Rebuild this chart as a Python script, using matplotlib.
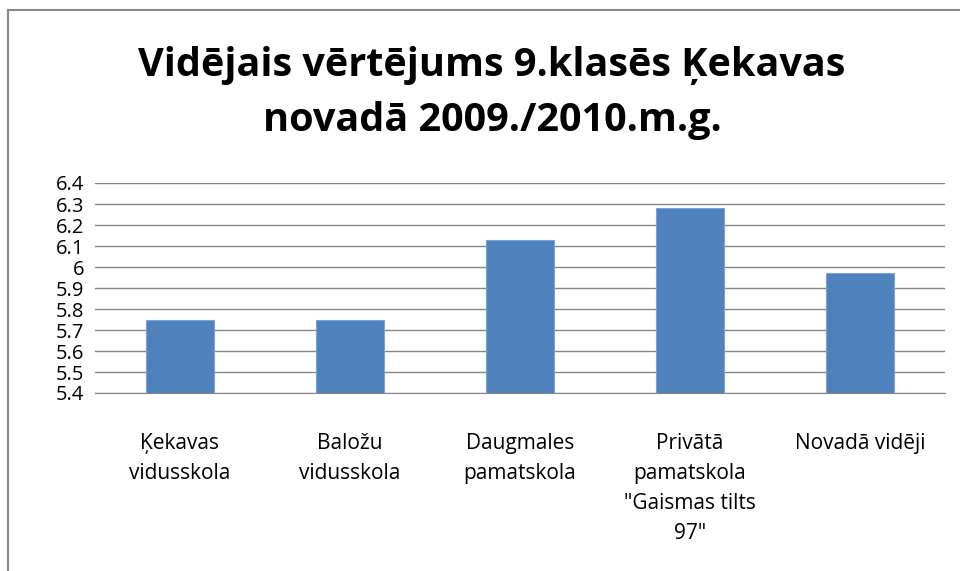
import matplotlib
matplotlib.use("Agg")
import matplotlib.pyplot as plt
from matplotlib.lines import Line2D
from matplotlib import font_manager as fm

categories = ["Ķekavas\nvidusskola", "Baložu\nvidusskola", "Daugmales\npamatskola",
              "Privātā\npamatskola\n\"Gaismas tilts\n97\"", "Novadā vidēji"]
values = [5.75, 5.75, 6.13, 6.28, 5.97]
yticks = [5.4, 5.5, 5.6, 5.7, 5.8, 5.9, 6.0, 6.1, 6.2, 6.3, 6.4]
ytick_labels = ["5.4", "5.5", "5.6", "5.7", "5.8", "5.9", "6", "6.1", "6.2", "6.3", "6.4"]
title = "Vidējais vērtējums 9.klasēs Ķekavas\nnovadā 2009./2010.m.g."

names = {f.name for f in fm.fontManager.ttflist}
fam = "Liberation Sans Narrow" if "Liberation Sans Narrow" in names else "Open Sans"
plt.rcParams['font.family'] = [fam, 'DejaVu Sans']

W, H = 960, 571
fig = plt.figure(figsize=(W/100, H/100), dpi=100)
fig.patch.set_facecolor("white")

left, right, top, bottom = 95, 945, 183, 393
ax = fig.add_axes([left/W, 1-bottom/H, (right-left)/W, (bottom-top)/H])

x = list(range(len(categories)))
ax.bar(x, values, width=0.4, color="#4F81BD", edgecolor="#7FA3D0", linewidth=0.8, zorder=3)
ax.set_xlim(-0.5, len(categories)-0.5)
ax.set_ylim(5.4, 6.4)
ax.set_yticks(yticks)
ax.set_yticklabels(ytick_labels, fontsize=14.5)
ax.set_xticks(x)
ax.set_xticklabels(categories, fontsize=15, linespacing=1.55, va="top")
ax.tick_params(axis="both", length=0)
ax.tick_params(axis="y", pad=8)
ax.tick_params(axis="x", pad=29)
ax.yaxis.grid(True, color="#868686", linewidth=1, zorder=0)
for s in ["left", "right", "top"]:
    ax.spines[s].set_visible(False)
ax.spines["bottom"].set_color("#868686")

fig.text(492/W, 1-93/H, title, ha="center", va="center", fontsize=28.5,
         fontweight="bold", linespacing=1.55)

# chart border
fig.add_artist(Line2D([8/W, 1], [1-10/H, 1-10/H], color="#868686", linewidth=1.5))
fig.add_artist(Line2D([8/W, 8/W], [0, 1-10/H], color="#868686", linewidth=1.5))

fig.savefig("out.png", dpi=100)
